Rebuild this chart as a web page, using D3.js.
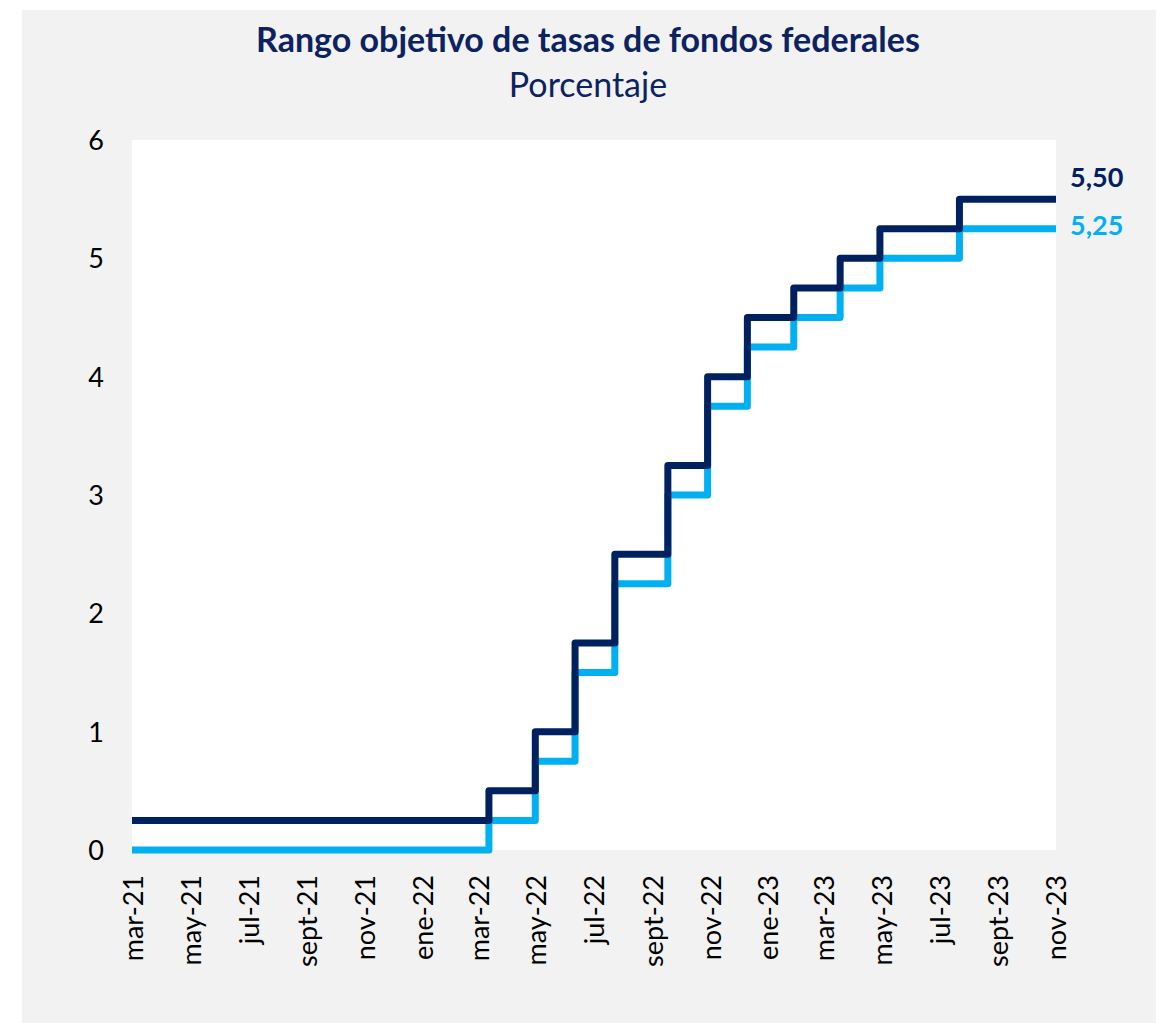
<!DOCTYPE html>
<html>
<head>
<meta charset="utf-8">
<script src="https://cdn.jsdelivr.net/npm/d3@7"></script>
<style>
    body { margin: 0; background: #ffffff; }
    .chart__title { font-family: Lato, 'Open Sans', sans-serif; font-weight: 700; fill: #0d2260; }
    .chart__subtitle { font-family: Lato, 'Open Sans', sans-serif; font-weight: 400; fill: #0d2260; }
    .chart__tick { font-family: Lato, 'Open Sans', sans-serif; fill: #000000; }
    .chart__value { font-family: Lato, 'Open Sans', sans-serif; font-weight: 700; }
</style>
</head>
<body>
<div class="chart"></div>
<script>
// step dates (effective change), last entry = end of series
var stepDates = ['2021-03-05', '2022-03-17', '2022-05-05', '2022-06-16', '2022-07-28',
    '2022-09-22', '2022-11-03', '2022-12-15', '2023-02-02', '2023-03-23',
    '2023-05-04', '2023-07-27', '2023-11-06'];
var upperRate = [0.25, 0.50, 1.00, 1.75, 2.50, 3.25, 4.00, 4.50, 4.75, 5.00, 5.25, 5.50, 5.50];
var lowerRate = [0.00, 0.25, 0.75, 1.50, 2.25, 3.00, 3.75, 4.25, 4.50, 4.75, 5.00, 5.25, 5.25];

var xTickDates = ['2021-03-01', '2021-05-01', '2021-07-01', '2021-09-01', '2021-11-01',
    '2022-01-01', '2022-03-01', '2022-05-01', '2022-07-01', '2022-09-01', '2022-11-01',
    '2023-01-01', '2023-03-01', '2023-05-01', '2023-07-01', '2023-09-01', '2023-11-01'];
var xTickLabels = ['mar-21', 'may-21', 'jul-21', 'sept-21', 'nov-21', 'ene-22', 'mar-22',
    'may-22', 'jul-22', 'sept-22', 'nov-22', 'ene-23', 'mar-23', 'may-23', 'jul-23',
    'sept-23', 'nov-23'];
var yTicks = [0, 1, 2, 3, 4, 5, 6];
var endLabels = ['5,50', '5,25'];

var width = 1164;
var height = 1023;
var plot = { left: 132, right: 1056, top: 140, bottom: 850 };
var parse = d3.timeParse('%Y-%m-%d');

var svg = d3.select('.chart')
    .append('svg')
    .attr('width', width)
    .attr('height', height);

// grey card + white plot area
svg.append('rect')
    .attr('x', 22)
    .attr('y', 10)
    .attr('width', 1134)
    .attr('height', 1013)
    .attr('fill', '#f2f2f2');

svg.append('rect')
    .attr('x', plot.left)
    .attr('y', plot.top)
    .attr('width', plot.right - plot.left)
    .attr('height', plot.bottom - plot.top)
    .attr('fill', '#ffffff');

var x = d3.scaleTime()
    .domain([parse(stepDates[0]), parse(stepDates[stepDates.length - 1])])
    .range([plot.left, plot.right]);

var y = d3.scaleLinear()
    .domain([0, 6])
    .range([plot.bottom, plot.top]);

// titles
svg.append('text')
    .attr('class', 'chart__title')
    .attr('x', 588)
    .attr('y', 52)
    .attr('text-anchor', 'middle')
    .attr('font-size', 34)
    .text('Rango objetivo de tasas de fondos federales');

svg.append('text')
    .attr('class', 'chart__subtitle')
    .attr('x', 588)
    .attr('y', 97)
    .attr('text-anchor', 'middle')
    .attr('font-size', 34)
    .text('Porcentaje');

// y axis labels
var yAxis = svg.append('g')
    .attr('transform', 'translate(104,0)')
    .call(d3.axisLeft(y).tickValues(yTicks).tickSize(0).tickPadding(0).tickFormat(d3.format('d')));

yAxis.select('.domain').remove();
yAxis.selectAll('text')
    .attr('class', 'chart__tick')
    .attr('font-size', 27)
    .attr('dy', '0.35em');

// x axis labels (rotated)
var xAxis = svg.append('g')
    .attr('transform', 'translate(0,' + plot.bottom + ')')
    .call(d3.axisBottom(x)
        .tickValues(xTickDates.map(parse))
        .tickSize(0)
        .tickFormat(function(d, i) { return xTickLabels[i]; }));

xAxis.select('.domain').remove();
xAxis.selectAll('text')
    .attr('class', 'chart__tick')
    .attr('font-size', 27)
    .attr('text-anchor', 'end')
    .attr('transform', 'translate(5,25) rotate(-90)')
    .attr('x', 0)
    .attr('y', 0)
    .attr('dy', '0.35em');

// step lines
var line = d3.line()
    .curve(d3.curveStepAfter)
    .x(function(d) { return x(parse(d.date)); })
    .y(function(d) { return y(d.value); });

var series = [
    { values: lowerRate, color: '#00b0f0', label: endLabels[1], shift: -3 },
    { values: upperRate, color: '#002060', label: endLabels[0], shift: -22 }
];

series.forEach(function(s) {
    var points = stepDates.map(function(date, i) {
        return { date: date, value: s.values[i] };
    });

    svg.append('path')
        .datum(points)
        .attr('fill', 'none')
        .attr('stroke', s.color)
        .attr('stroke-width', 7)
        .attr('stroke-linejoin', 'round')
        .attr('d', line);

    svg.append('text')
        .attr('class', 'chart__value')
        .attr('x', 1070)
        .attr('y', y(s.values[s.values.length - 1]) + s.shift)
        .attr('dy', '0.35em')
        .attr('font-size', 27)
        .attr('fill', s.color)
        .text(s.label);
});
</script>
</body>
</html>
